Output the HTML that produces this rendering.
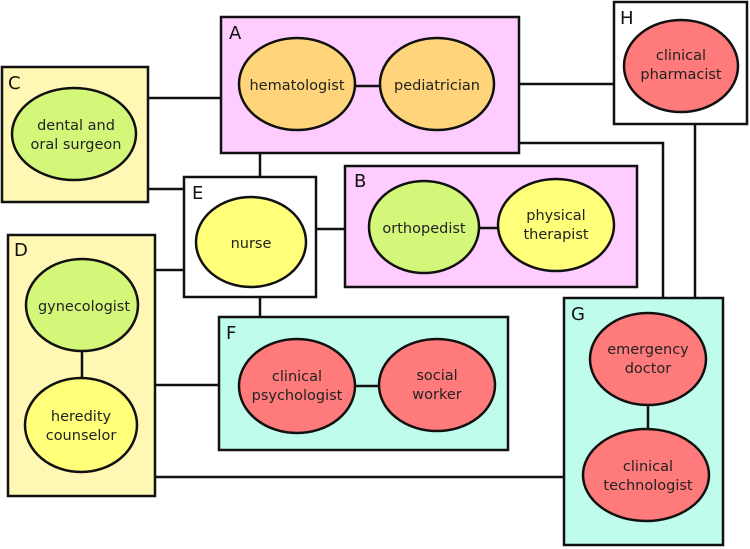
<!DOCTYPE html>
<html><head><meta charset="utf-8"><style>
html,body{margin:0;padding:0;background:#fff;}
svg{display:block;}
text{font-family:"DejaVu Sans","Liberation Sans",sans-serif;font-size:14.5px;fill:#222;text-anchor:middle;}
.L{font-size:18px;text-anchor:start;fill:#111;}
</style></head><body>
<svg width="750" height="549" viewBox="0 0 750 549" xmlns="http://www.w3.org/2000/svg">
<g stroke="#111" stroke-width="2.5" fill="none">
<line x1="148" y1="98" x2="221" y2="98"/>
<line x1="148" y1="189" x2="184" y2="189"/>
<line x1="260" y1="153" x2="260" y2="177"/>
<line x1="316" y1="229" x2="345" y2="229"/>
<line x1="155" y1="270" x2="184" y2="270"/>
<line x1="260" y1="297" x2="260" y2="317"/>
<line x1="155" y1="385" x2="219" y2="385"/>
<line x1="155" y1="477" x2="564" y2="477"/>
<line x1="519" y1="84" x2="614" y2="84"/>
<polyline points="519,143 663,143 663,298"/>
<line x1="695" y1="124" x2="695" y2="298"/>
</g>
<g stroke="#111" stroke-width="2.5">
<rect x="221" y="17" width="298" height="136" fill="#ffccff"/>
<rect x="2" y="67" width="146" height="135" fill="#fff8b4"/>
<rect x="184" y="177" width="132" height="120" fill="#fff"/>
<rect x="345" y="166" width="292" height="121" fill="#ffccff"/>
<rect x="614" y="2" width="133" height="122" fill="#fff"/>
<rect x="8" y="235" width="147" height="261" fill="#fff8b4"/>
<rect x="219" y="317" width="289" height="133" fill="#c0fcec"/>
<rect x="564" y="298" width="159" height="247" fill="#c0fcec"/>
<line x1="355" y1="86" x2="380" y2="86"/>
<line x1="479" y1="228" x2="500" y2="228"/>
<line x1="82" y1="351" x2="82" y2="378"/>
<line x1="355" y1="386" x2="380" y2="386"/>
<line x1="648" y1="405" x2="648" y2="430"/>
<ellipse cx="297" cy="84" rx="58" ry="46" fill="#ffd47a"/>
<ellipse cx="437" cy="84" rx="57" ry="46" fill="#ffd47a"/>
<ellipse cx="74" cy="134" rx="62" ry="46" fill="#d4f77a"/>
<ellipse cx="251" cy="242" rx="55" ry="45" fill="#ffff7a"/>
<ellipse cx="424" cy="227" rx="55" ry="46" fill="#d4f77a"/>
<ellipse cx="556" cy="225" rx="58" ry="46" fill="#ffff7a"/>
<ellipse cx="681" cy="66" rx="57" ry="46" fill="#ff7a7a"/>
<ellipse cx="82" cy="305" rx="56" ry="46" fill="#d4f77a"/>
<ellipse cx="81" cy="425" rx="56" ry="47" fill="#ffff7a"/>
<ellipse cx="297" cy="386" rx="58" ry="47" fill="#ff7a7a"/>
<ellipse cx="437" cy="385" rx="58" ry="46" fill="#ff7a7a"/>
<ellipse cx="648" cy="359" rx="58" ry="46" fill="#ff7a7a"/>
<ellipse cx="646" cy="475" rx="63" ry="46" fill="#ff7a7a"/>
</g>
<text class="L" x="229" y="39">A</text>
<text class="L" x="354" y="187">B</text>
<text class="L" x="8" y="89">C</text>
<text class="L" x="14" y="256">D</text>
<text class="L" x="192" y="199">E</text>
<text class="L" x="226" y="339">F</text>
<text class="L" x="571" y="320">G</text>
<text class="L" x="620" y="24">H</text>
<text x="297" y="90">hematologist</text>
<text x="437" y="90">pediatrician</text>
<text x="76" y="130">dental and</text>
<text x="76" y="149">oral surgeon</text>
<text x="251" y="248">nurse</text>
<text x="424" y="233">orthopedist</text>
<text x="556" y="220">physical</text>
<text x="556" y="239">therapist</text>
<text x="681" y="60">clinical</text>
<text x="681" y="79">pharmacist</text>
<text x="84" y="311">gynecologist</text>
<text x="81" y="421">heredity</text>
<text x="81" y="440">counselor</text>
<text x="297" y="381">clinical</text>
<text x="297" y="400">psychologist</text>
<text x="437" y="380">social</text>
<text x="437" y="399">worker</text>
<text x="648" y="354">emergency</text>
<text x="648" y="373">doctor</text>
<text x="648" y="471">clinical</text>
<text x="648" y="490">technologist</text>
</svg>
</body></html>
